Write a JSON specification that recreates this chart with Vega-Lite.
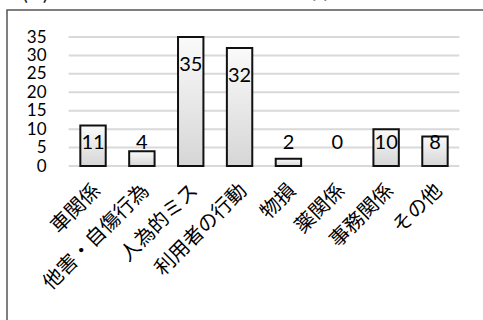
{
  "$schema": "https://vega.github.io/schema/vega-lite/v6.json",
  "autosize": {"type": "none"},
  "width": 480,
  "height": 315,
  "padding": {"left": 7, "top": 10, "right": 0, "bottom": 0},
  "background": "white",
  "title": {
    "text": "(2) ヒヤリハット　　  102 件",
    "anchor": "start",
    "frame": "group",
    "offset": -18,
    "dx": 13,
    "fontSize": 25,
    "font": "Noto Sans CJK JP",
    "fontWeight": "normal",
    "color": "#222222",
    "baseline": "bottom"
  },
  "config": {
    "view": {"stroke": "#555555", "strokeWidth": 1.5},
    "axis": {"domain": false, "ticks": false, "grid": false}
  },
  "datasets": {
    "incidents": [
      {"category": "車関係", "count": 11},
      {"category": "他害・自傷行為", "count": 4},
      {"category": "人為的ミス", "count": 35},
      {"category": "利用者の行動", "count": 32},
      {"category": "物損", "count": 2},
      {"category": "薬関係", "count": 0},
      {"category": "事務関係", "count": 10},
      {"category": "その他", "count": 8}
    ],
    "gridlines": [
      {"level": 0}, {"level": 5}, {"level": 10}, {"level": 15},
      {"level": 20}, {"level": 25}, {"level": 30}, {"level": 35}
    ]
  },
  "layer": [
    {
      "data": {"name": "gridlines"},
      "mark": {"type": "rule", "color": "#d9d9d9", "strokeWidth": 2},
      "encoding": {
        "y": {
          "field": "level",
          "type": "quantitative",
          "scale": {"domain": [0, 35], "range": [156, 27], "nice": false},
          "axis": {
            "title": null,
            "values": [0, 5, 10, 15, 20, 25, 30, 35],
            "offset": -46,
            "labelPadding": 7,
            "labelFont": "Lato",
            "labelFontSize": 17,
            "labelColor": "#000000"
          }
        },
        "x": {"datum": 0, "type": "quantitative", "scale": {"domain": [0, 1], "range": [61.6, 452.4]}, "axis": null},
        "x2": {"datum": 1}
      }
    },
    {
      "data": {"name": "incidents"},
      "layer": [
        {
          "transform": [{"filter": "datum.count > 0"}],
          "mark": {
            "type": "bar",
            "stroke": "#111111",
            "strokeWidth": 2,
            "fill": {
              "gradient": "linear",
              "x1": 0, "y1": 0, "x2": 0, "y2": 1,
              "stops": [
                {"offset": 0, "color": "#fafafa"},
                {"offset": 1, "color": "#d6d6d6"}
              ]
            }
          },
          "encoding": {
            "x": {
              "field": "category",
              "type": "nominal",
              "sort": ["車関係", "他害・自傷行為", "人為的ミス", "利用者の行動", "物損", "薬関係", "事務関係", "その他"],
              "scale": {"domain": ["車関係", "他害・自傷行為", "人為的ミス", "利用者の行動", "物損", "薬関係", "事務関係", "その他"], "range": [61.6, 452.4], "paddingInner": 0.48, "paddingOuter": 0.24},
              "axis": {
                "title": null,
                "orient": "bottom",
                "offset": -159,
                "labelAngle": -45,
                "labelAlign": "right",
                "labelBaseline": "middle",
                "labelPadding": 21,
                "labelOffset": 4,
                "labelFont": "Noto Sans CJK JP",
                "labelFontSize": 20,
                "labelColor": "#000000"
              }
            },
            "y": {"field": "count", "type": "quantitative"}
          }
        },
        {
          "transform": [
            {"calculate": "datum.count >= 20 ? datum.count - 7.5 : 6.2", "as": "label_at"}
          ],
          "mark": {"type": "text", "font": "Lato", "fontSize": 20, "color": "#000000", "baseline": "middle", "align": "center"},
          "encoding": {
            "x": {"field": "category", "type": "nominal", "sort": ["車関係", "他害・自傷行為", "人為的ミス", "利用者の行動", "物損", "薬関係", "事務関係", "その他"]},
            "y": {"field": "label_at", "type": "quantitative"},
            "text": {"field": "count", "type": "quantitative"}
          }
        }
      ]
    }
  ],
  "resolve": {"scale": {"x": "independent"}}
}
